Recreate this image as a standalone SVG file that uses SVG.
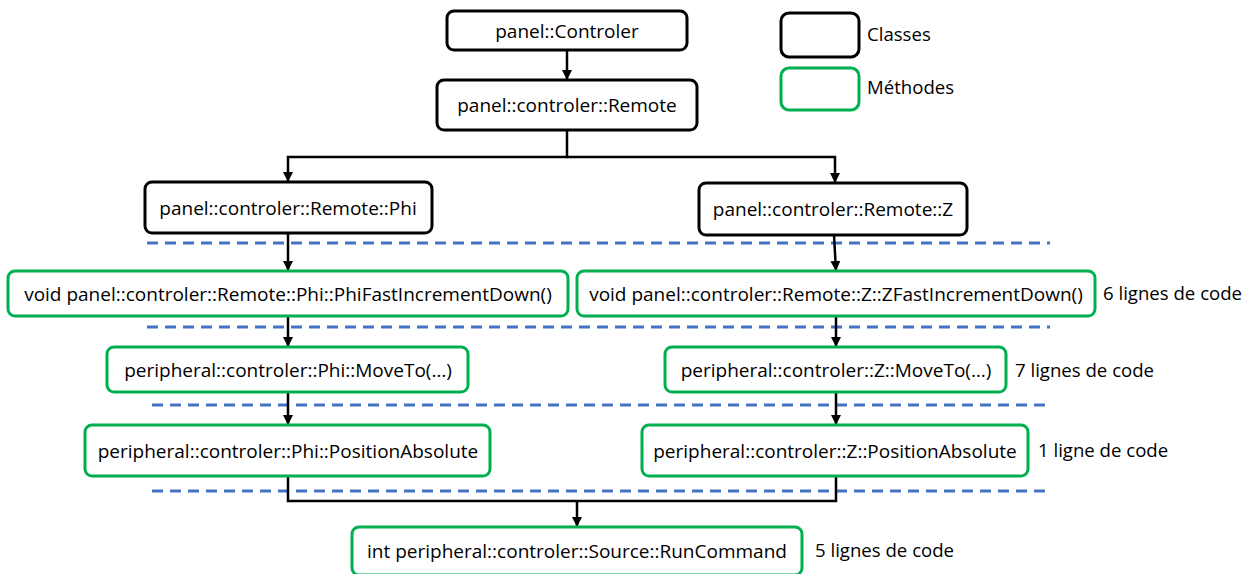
<svg xmlns="http://www.w3.org/2000/svg" width="1247" height="574" viewBox="0 0 1247 574">
<defs>
<style>
.cls{fill:#fff;stroke:#000;stroke-width:3}
.mth{fill:#fff;stroke:#00B050;stroke-width:3}
.t{font-family:"Open Sans","Noto Sans","DejaVu Sans",sans-serif;font-size:19px;fill:#000;text-anchor:middle}
.l{font-family:"Open Sans","Noto Sans","DejaVu Sans",sans-serif;font-size:18.6px;fill:#000}
.c{fill:none;stroke:#000;stroke-width:2.5}
.d{fill:none;stroke:#4472C4;stroke-width:3;stroke-dasharray:11 7}
</style>
<marker id="ah" viewBox="0 0 10 10" refX="10" refY="5" markerWidth="4" markerHeight="4" orient="auto" markerUnits="strokeWidth">
<path d="M0,0 L10,5 L0,10 z" fill="#000"/>
</marker>
</defs>
<rect width="1247" height="574" fill="#fff"/>
<g id="separators">
<line class="d" x1="147" y1="243" x2="1050" y2="243"/>
<line class="d" x1="147" y1="327" x2="1050" y2="327"/>
<line class="d" x1="152" y1="405" x2="1050" y2="405"/>
<line class="d" x1="152" y1="491" x2="1050" y2="491"/>
</g>
<g id="connectors">
<line class="c" x1="567" y1="51" x2="567" y2="80" marker-end="url(#ah)"/>
<polyline class="c" points="567,130 567,157 288,157 288,182" marker-end="url(#ah)"/>
<polyline class="c" points="567,157 835,157 835,183" marker-end="url(#ah)"/>
<line class="c" x1="288" y1="233" x2="288" y2="271" marker-end="url(#ah)"/>
<line class="c" x1="834" y1="235" x2="836" y2="271" marker-end="url(#ah)"/>
<line class="c" x1="288" y1="316" x2="288" y2="347" marker-end="url(#ah)"/>
<line class="c" x1="836" y1="316" x2="836" y2="347" marker-end="url(#ah)"/>
<line class="c" x1="288" y1="392" x2="288" y2="425" marker-end="url(#ah)"/>
<line class="c" x1="836" y1="392" x2="836" y2="425" marker-end="url(#ah)"/>
<polyline class="c" points="288,476 288,501 836,501 836,476"/>
<line class="c" x1="577" y1="501" x2="577" y2="527" marker-end="url(#ah)"/>
</g>
<g id="legend">
<rect class="cls" x="781" y="13" width="78" height="44" rx="8"/>
<text class="l" x="867" y="41">Classes</text>
<rect class="mth" x="781" y="68" width="78" height="42" rx="8"/>
<text class="l" x="867" y="94">Méthodes</text>
</g>
<g id="n-controler">
<rect class="cls" x="447" y="11" width="240" height="39" rx="7"/>
<text class="t" x="567" y="38">panel::Controler</text>
</g>
<g id="n-remote">
<rect class="cls" x="437" y="80" width="260" height="50" rx="7"/>
<text class="t" x="567" y="112">panel::controler::Remote</text>
</g>
<g id="n-phi">
<rect class="cls" x="145" y="182" width="287" height="51" rx="7"/>
<text class="t" x="288" y="215">panel::controler::Remote::Phi</text>
</g>
<g id="n-z">
<rect class="cls" x="699" y="183" width="268" height="52" rx="7"/>
<text class="t" x="833" y="216">panel::controler::Remote::Z</text>
</g>
<g id="n-phi-fast">
<rect class="mth" x="8" y="271" width="560" height="45" rx="7"/>
<text class="t" x="288" y="301">void panel::controler::Remote::Phi::PhiFastIncrementDown()</text>
</g>
<g id="n-z-fast">
<rect class="mth" x="577" y="271" width="518" height="45" rx="7"/>
<text class="t" x="836" y="301">void panel::controler::Remote::Z::ZFastIncrementDown()</text>
<text class="l" x="1103" y="300">6 lignes de code</text>
</g>
<g id="n-phi-move">
<rect class="mth" x="107" y="347" width="361" height="45" rx="7"/>
<text class="t" x="288" y="377">peripheral::controler::Phi::MoveTo(…)</text>
</g>
<g id="n-z-move">
<rect class="mth" x="665" y="347" width="341" height="45" rx="7"/>
<text class="t" x="836" y="377">peripheral::controler::Z::MoveTo(…)</text>
<text class="l" x="1015" y="377">7 lignes de code</text>
</g>
<g id="n-phi-pos">
<rect class="mth" x="85" y="425" width="405" height="51" rx="7"/>
<text class="t" x="288" y="458">peripheral::controler::Phi::PositionAbsolute</text>
</g>
<g id="n-z-pos">
<rect class="mth" x="642" y="425" width="386" height="51" rx="7"/>
<text class="t" x="835" y="458">peripheral::controler::Z::PositionAbsolute</text>
<text class="l" x="1038" y="457">1 ligne de code</text>
</g>
<g id="n-run">
<rect class="mth" x="352" y="527" width="450" height="48" rx="7"/>
<text class="t" x="577" y="558">int peripheral::controler::Source::RunCommand</text>
<text class="l" x="815" y="557">5 lignes de code</text>
</g>
</svg>
